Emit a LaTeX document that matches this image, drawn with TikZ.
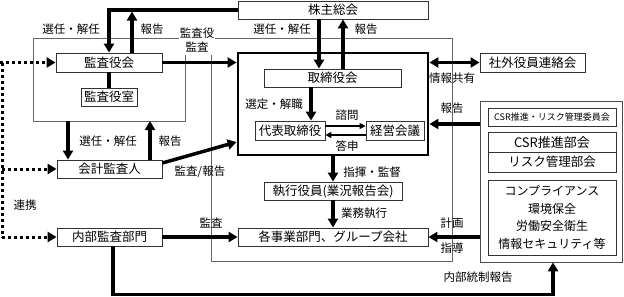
\documentclass[tikz,border=0pt]{standalone}
\usepackage{fontspec}
\setmainfont{Noto Sans CJK JP}
\usetikzlibrary{arrows.meta,calc}
\begin{document}
\begin{tikzpicture}[x=1pt,y=-1pt,
  box/.style={draw=black!80, line width=0.8pt, fill=white, inner sep=0pt, font=\fontsize{12.5}{14}\selectfont},
  lbl/.style={inner sep=0.5pt, font=\fontsize{11.5}{13}\selectfont},
  thk/.style={line width=3.5pt, -{Triangle[length=9pt,width=10pt]}},
  thkline/.style={line width=3.5pt},
  thn/.style={line width=1.5pt, -{Triangle[length=6pt,width=6pt]}},
  frame/.style={draw=black!60, line width=0.6pt},
  dots/.style={line width=3pt, dash pattern=on 3pt off 3pt},
  dotarrow/.style={line width=3pt, dash pattern=on 3pt off 3pt, -{Triangle[length=9pt,width=10pt]}}
]
\useasboundingbox (0,0) rectangle (624,297);

% thin frames
\draw[frame] (185,55) -- (185,121) -- (33,121) -- (33,38) -- (179,38);
\draw[frame] (215,38) -- (452,38) -- (452,261) -- (211,261) -- (211,55);

% nodes
\node[box, minimum width=190pt, minimum height=18pt] (kabu) at (333,10) {株主総会};
\node[box, minimum width=106pt, minimum height=19pt] (kyk) at (109,62.5) {監査役会};
\node[box, minimum width=56pt, minimum height=18pt] (kys) at (109,97) {監査役室};
\node[box, minimum width=105pt, minimum height=18pt] (kaikei) at (109.5,169) {会計監査人};
\node[box, minimum width=105pt, minimum height=18pt] (naibu) at (109.5,237) {内部監査部門};
\node[draw=black, line width=2.8pt, minimum width=190pt, minimum height=102pt, inner sep=0pt] (big) at (333,104) {};
\node[box, minimum width=137pt, minimum height=18pt] (tori) at (332.5,78) {取締役会};
\node[box, minimum width=70pt, minimum height=19pt] (daihyo) at (290,130.5) {代表取締役};
\node[box, minimum width=58pt, minimum height=19pt] (keiei) at (395,130.5) {経営会議};
\node[box, minimum width=138pt, minimum height=18pt] (shikko) at (333,191) {執行役員(業況報告会)};
\node[box, minimum width=190pt, minimum height=18pt] (kaku) at (333,237) {各事業部門、グループ会社};
\node[box, minimum width=105pt, minimum height=19pt] (shagai) at (532.5,62.5) {社外役員連絡会};
\node[draw=black!70, line width=0.8pt, minimum width=142pt, minimum height=161pt, inner sep=0pt] (csr) at (551,181.5) {};
\node[box, minimum width=128pt, minimum height=18pt, font=\fontsize{9}{11}\selectfont] (csrc) at (552,117) {CSR推進・リスク管理委員会};
\node[box, minimum width=128pt, minimum height=40pt] (bukai) at (552,152) {};
\draw[draw=black!80, line width=0.8pt] (bukai.west) -- (bukai.east);
\node[inner sep=0pt, font=\fontsize{13}{15}\selectfont] (b1) at (552,142.5) {CSR推進部会};
\node[inner sep=0pt, font=\fontsize{12.5}{15}\selectfont] (b2) at (552,162) {リスク管理部会};
\node[box, minimum width=128pt, minimum height=75pt, align=center, font=\fontsize{12}{17.5}\selectfont] (comp) at (552,217.5) {コンプライアンス\\環境保全\\労働安全衛生\\情報セキュリティ等};

% connectors
\draw[thk] (kabu.west) -| (kyk.north);
\coordinate (r1) at (132,11.5);
\draw[thk] (kyk.north -| r1) -- (r1);
\draw[thkline] (kyk.south) -- (kys.north);
\draw[thk] (kyk.east) -- (kyk.east -| big.west);
\coordinate (fb1) at (68,121);
\coordinate (fb2) at (150,121);
\draw[thk] (fb1) -- (fb1 |- kaikei.north);
\draw[thk] (fb2 |- kaikei.north) -- (fb2);
\draw[thk] ([yshift=6pt]kaikei.east) -- ([yshift=-38pt]big.west);
\draw[thk] (naibu.east) -- (kaku.west);
\draw[thk] ([xshift=3.5pt]naibu.south) -- ++(0,48) -| ([xshift=2pt]csr.south);

% dotted
\coordinate (d0) at (0,62.5);
\coordinate (d1) at (2,62.5);
\coordinate (d2) at (2,237);
\draw[dotarrow] (d0) -- (kyk.west);
\draw[dots] (d1) -- (d2);
\draw[dotarrow] (d1 |- kaikei.west) -- (kaikei.west);
\draw[dotarrow] (d2) -- (naibu.west);

% inside
\draw[thk] ([xshift=-14pt]kabu.south) -- ([xshift=-14pt]kabu.south |- tori.north);
\draw[thk] ([xshift=10.5pt]tori.north) -- ([xshift=10.5pt]tori.north |- kabu.south);
\draw[thk] ([xshift=-21.5pt]tori.south) -- ([xshift=-21.5pt]tori.south |- daihyo.north);
\draw[thn] ([yshift=4.5pt]daihyo.east) -- ([yshift=4.5pt]daihyo.east -| keiei.west);
\draw[thn] ([yshift=-4.5pt]keiei.west) -- ([yshift=-4.5pt]keiei.west -| daihyo.east);
\draw[thk] (big.south) -- (shikko.north);
\draw[thk] (shikko.south) -- (kaku.north);
\draw[line width=3.5pt, {Triangle[length=9pt,width=10pt]}-{Triangle[length=9pt,width=10pt]}] (shagai.west -| big.east) -- (shagai.west);
\draw[thk] ([yshift=57.5pt]csr.west) -- ([yshift=57.5pt]csr.west -| big.east);
\draw[thk] (kaku.east -| csr.west) -- (kaku.east);

% labels
\node[lbl] (l1) at (71,29) {選任・解任};
\node[lbl] (l2) at (152,29) {報告};
\node[lbl, align=center, font=\fontsize{11.5}{14}\selectfont] (l3) at (197,40.5) {監査役\\監査};
\node[lbl] (l4) at (282,29) {選任・解任};
\node[lbl] (l5) at (366,29) {報告};
\node[lbl] (l6) at (274,104) {選定・解職};
\node[lbl] (l7) at (347,115) {諮問};
\node[lbl] (l8) at (347,146.5) {答申};
\node[lbl] (l9) at (108,141) {選任・解任};
\node[lbl] (l10) at (170,141) {報告};
\node[lbl] (l11) at (200,172) {監査/報告};
\node[lbl] (l12) at (25,205) {連携};
\node[lbl] (l13) at (211,223) {監査};
\node[lbl] (l14) at (372,172) {指揮・監督};
\node[lbl] (l15) at (364,213) {業務執行};
\node[lbl] (l16) at (452,78) {情報共有};
\node[lbl] (l17) at (452,108) {報告};
\node[lbl] (l18) at (452,223) {計画};
\node[lbl] (l19) at (452,248) {指導};
\node[lbl] (l20) at (478,277) {内部統制報告};
\end{tikzpicture}
\end{document}
